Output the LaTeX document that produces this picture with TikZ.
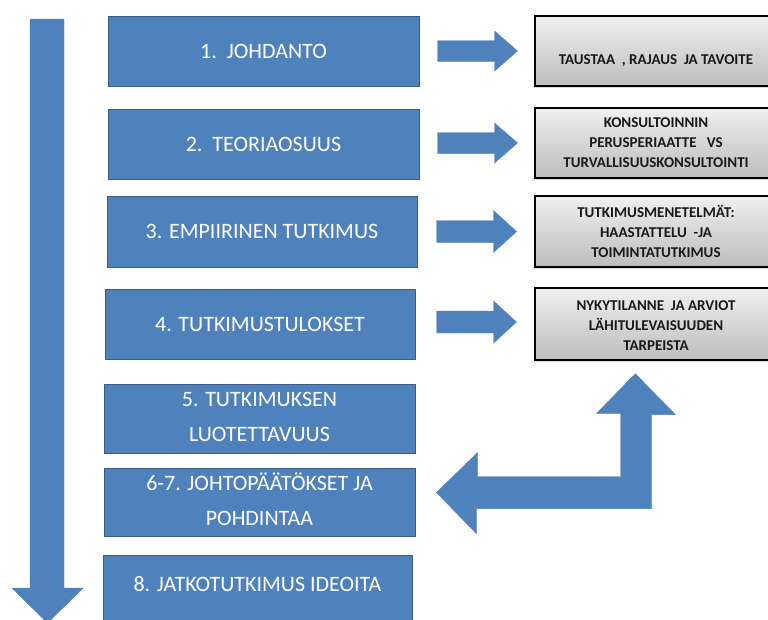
\documentclass[tikz,border=0pt]{standalone}
\usepackage{fontspec}
\setmainfont{Carlito}
\usepackage{xcolor}
\usetikzlibrary{shadows}
\definecolor{stepblue}{HTML}{4F81BD}
\definecolor{stepedge}{HTML}{385D8A}
\tikzset{
	stepbox/.style={shape=rectangle, inner sep=0, fill=stepblue, draw=stepedge, line width=1pt},
	notebox/.style={shape=rectangle, inner sep=0, top color=white!94!black, bottom color=white!74!black, draw=black, line width=1.3pt, drop shadow={shadow xshift=-1.5pt, shadow yshift=-2pt, opacity=0.3}},
	steptext/.style={text=white, align=center, font=\fontsize{22}{35}\selectfont},
	notetext/.style={text=black!90, align=center, font=\fontsize{15}{20}\selectfont\bfseries},
	arrowfill/.style={fill=stepblue, draw=stepblue, line width=0.4pt, line join=miter}
}

\begin{document}
\begin{tikzpicture}[x=1pt, y=-1pt]
	\useasboundingbox (0,0) rectangle (768,619);
	\clip (0,0) rectangle (768,619);
	% Boxes, notes and arrows:
	\coordinate (FlowTop) at (30,19);
	\fill[arrowfill] (FlowTop) -- ++(34,0) -- ++(0,569) -- ++(19,0) -- ++(-35.5,35) -- ++(-35.5,-35) -- ++(18,0) -- cycle;
	\node[stepbox, minimum width=311pt, minimum height=70pt](Step1) at (263.5,51){} node[steptext] at (Step1.center){1.\ \ JOHDANTO};
	\node[stepbox, minimum width=311pt, minimum height=70pt](Step2) at (263.5,144){} node[steptext] at (Step2.center){2.\ \ TEORIAOSUUS};
	\node[stepbox, minimum width=310pt, minimum height=71pt](Step3) at (262,231.5){} node[steptext] at (Step3.center){3. EMPIIRINEN TUTKIMUS};
	\node[stepbox, minimum width=310pt, minimum height=70pt](Step4) at (260,324){} node[steptext] at (Step4.center){4. TUTKIMUSTULOKSET};
	\node[stepbox, minimum width=311pt, minimum height=69pt](Step5) at (259.5,418.5){} node[steptext] at ([yshift=2pt]Step5.center){5. TUTKIMUKSEN\\LUOTETTAVUUS};
	\node[stepbox, minimum width=311pt, minimum height=68pt](Step6) at (259.5,502){} node[steptext] at ([yshift=3pt]Step6.center){6-7. JOHTOPÄÄTÖKSET JA\\POHDINTAA};
	\node[stepbox, minimum width=309pt, minimum height=66pt](Step8) at (257.5,588){} node[steptext] at ([yshift=4pt]Step8.center){8. JATKOTUTKIMUS IDEOITA};
	\node[notebox, minimum width=242pt, minimum height=70pt](Note1) at (656,51){} node[notetext] at ([yshift=-10pt]Note1.center){TAUSTAA~~, RAJAUS~~JA TAVOITE};
	\node[notebox, minimum width=242pt, minimum height=70pt](Note2) at (656,143){} node[notetext] at (Note2.center){KONSULTOINNIN\\PERUSPERIAATTE~~~VS\\TURVALLISUUSKONSULTOINTI};
	\node[notebox, minimum width=242pt, minimum height=71pt](Note3) at (656,231.5){} node[notetext] at (Note3.center){TUTKIMUSMENETELMÄT:\\HAASTATTELU~~-JA\\TOIMINTATUTKIMUS};
	\node[notebox, minimum width=242pt, minimum height=72pt](Note4) at (656,324){} node[notetext] at ([yshift=-2pt]Note4.center){NYKYTILANNE~~JA ARVIOT\\LÄHITULEVAISUUDEN\\TARPEISTA};
	\fill[arrowfill] ([xshift=18pt, yshift=10.5pt]Step1.east) -- ++(57,0) -- ++(0,-9.5) -- ++(23,20) -- ++(-23,20) -- ++(0,-9.5) -- ++(-57,0) -- cycle;
	\fill[arrowfill] ([xshift=18pt, yshift=11.5pt]Step2.east) -- ++(57,0) -- ++(0,-9.5) -- ++(23,20) -- ++(-23,20) -- ++(0,-9.5) -- ++(-57,0) -- cycle;
	\fill[arrowfill] ([xshift=19pt, yshift=11pt]Step3.east) -- ++(57,0) -- ++(0,-10) -- ++(23,21) -- ++(-23,21) -- ++(0,-10) -- ++(-57,0) -- cycle;
	\fill[arrowfill] ([xshift=21pt, yshift=13pt]Step4.east) -- ++(57,0) -- ++(0,-10) -- ++(23,21) -- ++(-23,21) -- ++(0,-10) -- ++(-57,0) -- cycle;
	\coordinate (UpTip) at ([xshift=101pt, yshift=-13pt]Note4.south west);
	\coordinate (LeftTip) at ([xshift=21pt, yshift=9.5pt]Step6.east);
	\fill[arrowfill] (UpTip) -- ++(40,41) -- ++(-24,0) -- ++(0,94) -- ++(-175,0) -- ++(0,25) -- (LeftTip) -- ++(41,-40) -- ++(0,24) -- ++(143,0) -- ++(0,-63) -- ++(-24,0) -- cycle;
\end{tikzpicture}
\end{document}
